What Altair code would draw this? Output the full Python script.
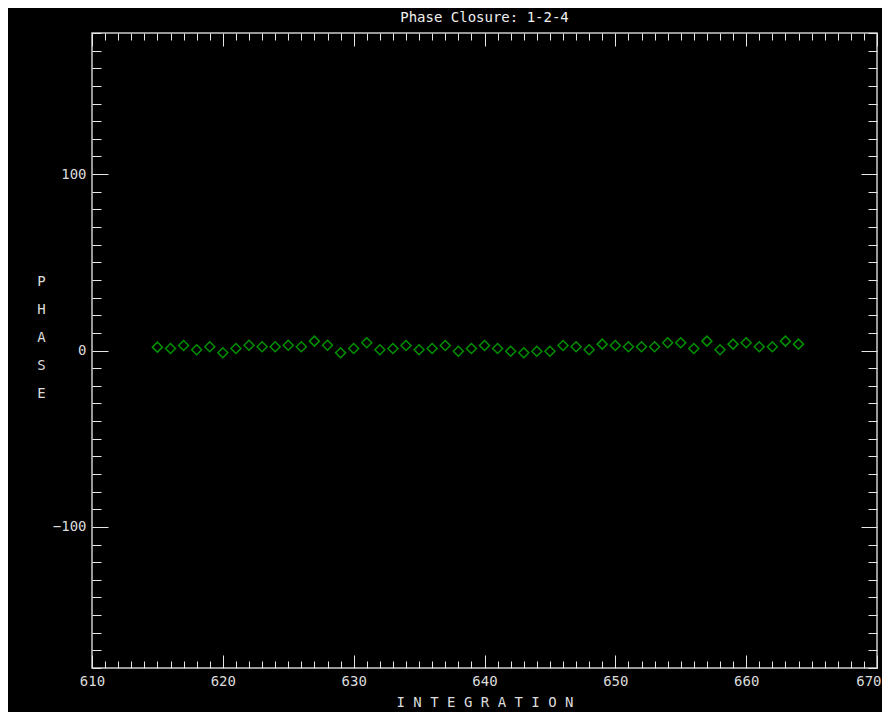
import altair as alt
import pandas as pd

# ---- data ----
integration = list(range(615, 665))
phase = [1.9, 1.1, 2.8, 0.4, 2.1, -1.3, 1.1, 3.0, 2.1, 2.1, 3.0, 2.1, 5.3, 3.0, -1.3, 1.1, 4.4,
         0.4, 1.1, 2.8, 0.4, 1.1, 2.8, -0.4, 1.1, 2.8, 1.1, -0.4, -1.3, -0.4, -0.4, 2.8, 2.1, 0.4, 3.6,
         2.8, 2.1, 2.1, 2.1, 4.4, 4.4, 1.1, 5.3, 0.4, 3.6, 4.4, 2.1, 2.1, 5.3, 3.6]

x_label_values = [610, 620, 630, 640, 650, 660, 670]
x_tick_values = list(range(610, 671))
y_label_values = [-100, 0, 100]
y_tick_values = list(range(-180, 181, 10))

df = pd.DataFrame({"integration": integration, "phase": phase})

W, H = 785, 635
FONT = "DejaVu Sans Mono"
TXT = "#dcdcdc"
TICK = "#e6e6e6"

xs = alt.Scale(domain=[610, 670], nice=False, zero=False)
ys = alt.Scale(domain=[-180, 180], nice=False, zero=False)

x_major = {"condition": {"test": "datum.value % 10 === 0", "value": 13}, "value": 7}
y_major = {"condition": {"test": "datum.value % 100 === 0", "value": 16}, "value": 9}
last_align = {"condition": {"test": "datum.value === 670", "value": "right"}, "value": "center"}
last_offset = {"condition": {"test": "datum.value === 670", "value": 4}, "value": 0}

base = alt.Chart(df)

points = base.mark_point(shape="diamond", filled=False, size=100, strokeWidth=1.5,
                         color="#00d000").encode(
    x=alt.X("integration:Q", scale=xs,
            axis=alt.Axis(orient="bottom", values=x_label_values, ticks=False, tickSize=0,
                          domain=False, grid=False, labelPadding=6, labelFont=FONT,
                          labelFontSize=14, labelColor=TXT, labelFlush=False,
                          labelAlign=last_align, labelOffset=last_offset,
                          title="I N T E G R A T I O N", titleFont=FONT, titleFontSize=14,
                          titleFontWeight="normal", titleColor=TXT, titleY=34,
                          titleBaseline="middle")),
    y=alt.Y("phase:Q", scale=ys,
            axis=alt.Axis(orient="left", values=y_label_values, ticks=False, tickSize=0,
                          domain=False, grid=False, labelPadding=6, labelFont=FONT,
                          labelFontSize=14, labelColor=TXT,
                          title=["P", "H", "A", "S", "E"], titleFont=FONT, titleFontSize=14,
                          titleFontWeight="normal", titleColor=TXT, titleAngle=0,
                          titleX=-51, titleY=248, titleAlign="center",
                          titleBaseline="middle", titleLineHeight=28)),
)

# inward ticks along bottom and left edges (top/right axes pushed across the plot)
ticks_a = base.mark_point(opacity=0).encode(
    x=alt.X("integration:Q", scale=xs,
            axis=alt.Axis(orient="top", offset=-H, values=x_tick_values, labels=False,
                          domain=False, grid=False, tickSize=x_major, tickColor=TICK,
                          tickWidth=1, title="")),
    y=alt.Y("phase:Q", scale=ys,
            axis=alt.Axis(orient="right", offset=-W, values=y_tick_values, labels=False,
                          domain=False, grid=False, tickSize=y_major, tickColor=TICK,
                          tickWidth=1, title="")),
)

# inward ticks along top and right edges
ticks_b = base.mark_point(opacity=0).encode(
    x=alt.X("integration:Q", scale=xs,
            axis=alt.Axis(orient="bottom", offset=-H, values=x_tick_values, labels=False,
                          domain=False, grid=False, tickSize=x_major, tickColor=TICK,
                          tickWidth=1, title="")),
    y=alt.Y("phase:Q", scale=ys,
            axis=alt.Axis(orient="left", offset=-W, values=y_tick_values, labels=False,
                          domain=False, grid=False, tickSize=y_major, tickColor=TICK,
                          tickWidth=1, title="")),
)

chart = alt.layer(points, ticks_a, ticks_b).resolve_axis(
    x="independent", y="independent"
).properties(
    width=W,
    height=H,
    title=alt.TitleParams("Phase Closure: 1-2-4", font=FONT, fontSize=14,
                          fontWeight="normal", color="#f0f0f0", anchor="middle",
                          baseline="middle", offset=1),
    autosize=alt.AutoSizeParams(type="none"),
    padding={"left": 84, "top": 25, "right": 5, "bottom": 44},
    background="black",
).configure_view(
    stroke="#cccccc", strokeWidth=1.5, fill="black"
)

chart.save("out.html", embed_options={"renderer": "svg", "actions": False})
